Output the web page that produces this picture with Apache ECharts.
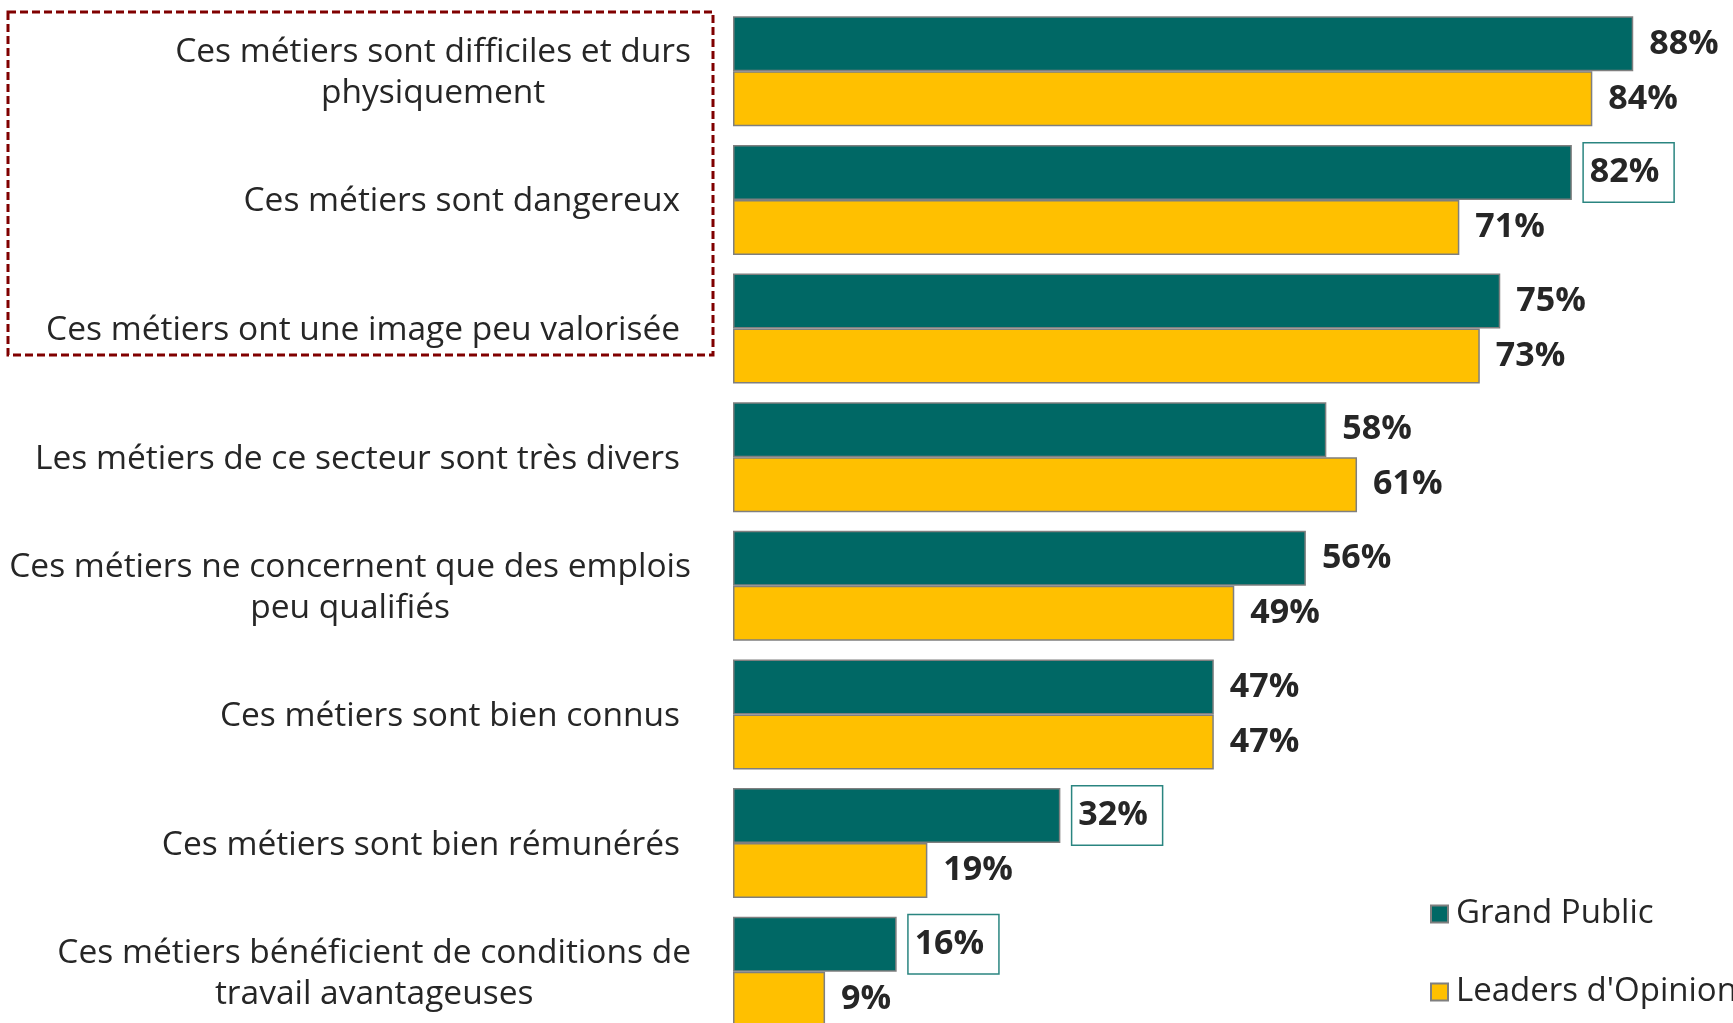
<!DOCTYPE html>
<html>
<head>
<meta charset="utf-8">
<title>Perception des métiers</title>
<script src="https://cdn.jsdelivr.net/npm/echarts@6/dist/echarts.min.js"></script>
<style>
  html, body { margin: 0; padding: 0; background: #fff; }
  #chart { width: 1733px; height: 1023px; }
</style>
</head>
<body>
<div id="chart"></div>
<script>
// categories (top to bottom)
var categories = [
  "Ces métiers sont difficiles et durs\nphysiquement",
  "Ces métiers sont dangereux",
  "Ces métiers ont une image peu valorisée",
  "Les métiers de ce secteur sont très divers",
  "Ces métiers ne concernent que des emplois\npeu qualifiés",
  "Ces métiers sont bien connus",
  "Ces métiers sont bien rémunérés",
  "Ces métiers bénéficient de conditions de\ntravail avantageuses"
];
var grandPublic = [88, 82, 75, 58, 56, 47, 32, 16];
var leaders = [84, 71, 73, 61, 49, 47, 19, 9];
// values framed with a box in the original
var boxed = [1, 6, 7];

var FONT = "Open Sans";
var TEXT = "#262626";

var myChart = echarts.init(document.getElementById("chart"));

var gpData = grandPublic.map(function(v, i) {
  if (boxed.indexOf(i) < 0) return v;
  return {
    value: v,
    label: {
      distance: 12,
      borderColor: "#2a8580",
      borderWidth: 1.5,
      backgroundColor: "#fff",
      padding: [12, 14, 12, 6]
    }
  };
});

var valueLabel = {
  show: true,
  position: "right",
  distance: 16,
  padding: [4, 0, 0, 0],
  formatter: "{c}%",
  fontFamily: FONT,
  fontSize: 34,
  fontWeight: "bold",
  color: TEXT
};

myChart.setOption({
  animation: false,
  color: ["#006865", "#ffc000"],
  grid: {
    left: 733,
    top: 7,
    width: 1023,
    height: 1029,
    outerBoundsMode: "none"
  },
  xAxis: {
    type: "value",
    min: 0,
    max: 100,
    show: false
  },
  yAxis: {
    type: "category",
    inverse: true,
    data: categories,
    axisLine: { show: false },
    axisTick: { show: false },
    axisLabel: {
      margin: 42,
      padding: [4, 0, 0, 0],
      formatter: function(name) {
        // two-line labels are centred, one-line ones sit a bit further left
        if (name.indexOf("\n") >= 0) {
          return name.split("\n").map(function(l) { return "{c|" + l + "}"; }).join("\n");
        }
        return "{s|" + name + "}";
      },
      rich: {
        c: { fontFamily: FONT, fontSize: 33.5, color: TEXT, align: "center", lineHeight: 41 },
        s: { fontFamily: FONT, fontSize: 33.5, color: TEXT, padding: [0, 11, 0, 0] }
      }
    }
  },
  legend: {
    orient: "vertical",
    left: 1425,
    top: 891,
    itemWidth: 17,
    itemHeight: 17,
    itemGap: 42,
    icon: "rect",
    textStyle: { fontFamily: FONT, fontSize: 33, color: TEXT, lineHeight: 36, padding: [0, 0, 0, 3] },
    data: ["Grand Public", "Leaders d'Opinion"]
  },
  graphic: [
    {
      type: "rect",
      shape: { x: 8, y: 12, width: 705, height: 343 },
      style: { fill: "none", stroke: "#800000", lineWidth: 3, lineDash: [8, 4] },
      z: 10
    }
  ],
  series: [
    {
      name: "Grand Public",
      type: "bar",
      barWidth: 55,
      barGap: "0%",
      itemStyle: { borderColor: "#7f7f7f", borderWidth: 1.5 },
      label: valueLabel,
      data: gpData
    },
    {
      name: "Leaders d'Opinion",
      type: "bar",
      barWidth: 55,
      barGap: "0%",
      itemStyle: { borderColor: "#7f7f7f", borderWidth: 1.5 },
      label: valueLabel,
      data: leaders
    }
  ]
});

window.addEventListener("resize", function() {
  myChart.resize();
});
</script>
</body>
</html>
